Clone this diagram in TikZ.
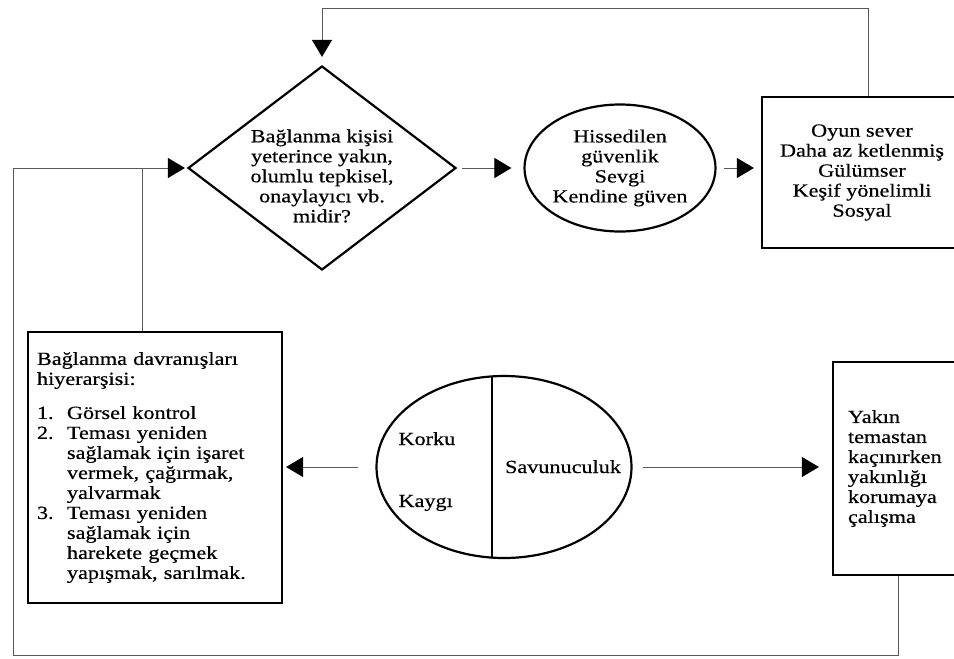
\documentclass[tikz,border=0pt]{standalone}
\usepackage{fontspec}
\setmainfont{Liberation Serif}[FakeStretch=1.2,FakeBold=0.5]
\usetikzlibrary{arrows.meta,shapes.geometric}

\begin{document}
\begin{tikzpicture}[x=1pt,y=-1pt,>={Triangle[length=17pt,width=20pt,color=black]},
  font=\fontsize{18.5}{20}\selectfont,
  frame/.style={draw,line width=2.2pt},
  decide/.style={frame,shape=diamond,minimum width=268pt,minimum height=204pt,inner sep=0pt},
  oval/.style={frame,shape=ellipse,inner sep=0pt,align=center},
  link/.style={black!65,line width=0.9pt}]
\useasboundingbox (0,0) rectangle (954,659);
\clip (0,0) rectangle (954,659);
% decision and its outcomes
\node[decide,label={[align=center,yshift=-8pt]center:{Bağlanma kişisi\\yeterince yakın,\\olumlu tepkisel,\\onaylayıcı vb.\\midir?}}] (decide) at (322,168) {};
\node[oval,minimum width=176pt,minimum height=127pt] (feel) at (620,168) {Hissedilen\\güvenlik\\Sevgi\\Kendine güven};
\node[frame,align=center,minimum width=200pt,minimum height=151pt] (explore) at (862,172.5) {Oyun sever\\Daha az ketlenmiş\\Gülümser\\Keşif yönelimli\\Sosyal};
% lower row
\node[frame,align=left,text width=236pt,inner xsep=9pt,minimum width=254pt,minimum height=271pt] (hier) at (155,467.5) {Bağlanma davranışları\\hiyerarşisi:\\[14pt]
\makebox[30pt][l]{1.}Görsel kontrol\\
\makebox[30pt][l]{2.}Teması yeniden\\
\hspace*{30pt}sağlamak için işaret\\
\hspace*{30pt}vermek, çağırmak,\\
\hspace*{30pt}yalvarmak\\
\makebox[30pt][l]{3.}Teması yeniden\\
\hspace*{30pt}sağlamak için\\
\hspace*{30pt}harekete geçmek\\
\hspace*{30pt}yapışmak, sarılmak.};
\node[oval,minimum width=255pt,minimum height=182pt] (emo) at (504,467) {};
\draw[line width=1.1pt] (492,377) -- (492,557);
\node[anchor=base west] (fear) at (395,445) {Korku};
\node[anchor=base west] (worry) at (395,507) {Kaygı};
\node[anchor=base] (defence) at (563,473) {Savunuculuk};
\node[frame,align=left,text width=110pt,inner xsep=15pt,minimum height=213pt] (avoid) at (903,468.5) {Yakın\\temastan\\kaçınırken\\yakınlığı\\korumaya\\çalışma};
% connectors
\draw[link,->,shorten <=5pt,shorten >=12pt] (decide.east) -- (feel.west);
\draw[link,->,shorten <=7pt,shorten >=7pt] (feel.east) -- (feel.east -| explore.west);
\draw[link,->,shorten >=8pt] ([xshift=6pt]explore.north) |- (322,8) -- (decide.north);
\draw[link,->,shorten >=2pt] ([xshift=-5pt]avoid.south) |- (13,655) |- (decide.west);
\draw[link] ([xshift=-13pt]hier.north) -- ([xshift=-13pt]hier.north |- decide.west);
\draw[link,->,shorten <=17pt,shorten >=3pt] (emo.west) -- (emo.west -| hier.east);
\draw[link,->,shorten <=10pt,shorten >=13pt] (emo.east) -- (emo.east -| avoid.west);
\end{tikzpicture}
\end{document}
